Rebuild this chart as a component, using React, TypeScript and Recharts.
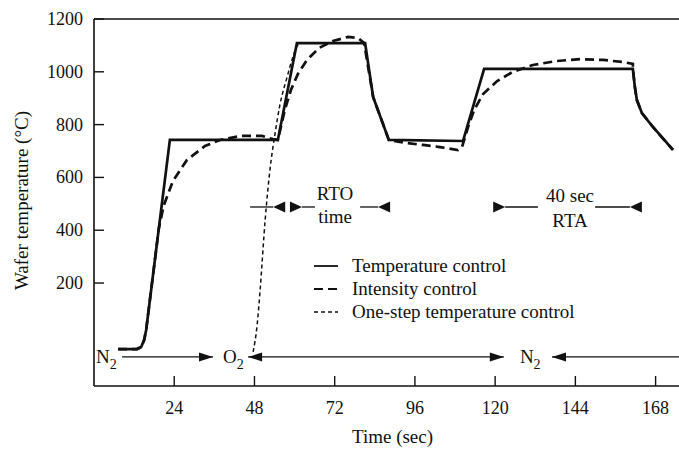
import React from 'react';
import { LineChart, Line, XAxis, YAxis, ReferenceLine, ReferenceDot, Legend } from 'recharts';

const SERIF = '"Liberation Serif", "Times New Roman", Times, serif';
const INK = '#111111';

// Axis ticks
const timeTicks = [24, 48, 72, 96, 120, 144, 168];
const tempTicks = [200, 400, 600, 800, 1000, 1200];

// Wafer temperature (°C) against time (s) for the three control schemes
const temperatureControl = [
  { t: 7.2, v: -50 }, { t: 12.9, v: -50 }, { t: 14.1, v: -42 }, { t: 15.0, v: -16 }, { t: 15.6, v: 22 },
  { t: 22.7, v: 742 }, { t: 55.0, v: 742 }, { t: 60.7, v: 1109 }, { t: 81.1, v: 1109 }, { t: 83.5, v: 905 },
  { t: 84.7, v: 863 }, { t: 88.2, v: 742 }, { t: 110.4, v: 738 }, { t: 116.7, v: 1011 }, { t: 161.2, v: 1011 },
  { t: 161.8, v: 942 }, { t: 162.4, v: 893 }, { t: 163.9, v: 844 }, { t: 167.2, v: 791 }, { t: 173.2, v: 704 },
];

const intensityControl = [
  { t: 7.2, v: -50 }, { t: 12.9, v: -50 }, { t: 14.1, v: -42 }, { t: 15.0, v: -16 }, { t: 15.6, v: 22 },
  { t: 19.4, v: 408 }, { t: 20.9, v: 495 }, { t: 23.6, v: 586 }, { t: 27.8, v: 666 }, { t: 33.2, v: 719 },
  { t: 37.7, v: 742 }, { t: 43.7, v: 757 }, { t: 50.3, v: 757 }, { t: 53.5, v: 745 }, { t: 55.0, v: 742 },
  { t: 57.1, v: 856 }, { t: 58.9, v: 931 }, { t: 61.0, v: 992 }, { t: 63.7, v: 1045 }, { t: 67.3, v: 1090 },
  { t: 71.5, v: 1117 }, { t: 76.0, v: 1132 }, { t: 79.0, v: 1128 }, { t: 80.8, v: 1109 }, { t: 83.5, v: 905 },
  { t: 84.7, v: 863 }, { t: 88.2, v: 742 }, { t: 93.6, v: 730 }, { t: 98.4, v: 723 }, { t: 103.5, v: 715 },
  { t: 108.9, v: 704 }, { t: 110.1, v: 715 }, { t: 111.9, v: 791 }, { t: 113.7, v: 855 }, { t: 116.4, v: 916 },
  { t: 120.6, v: 965 }, { t: 125.3, v: 1000 }, { t: 131.3, v: 1026 }, { t: 138.5, v: 1041 }, { t: 145.4, v: 1048 },
  { t: 152.3, v: 1045 }, { t: 158.2, v: 1037 }, { t: 161.2, v: 1030 }, { t: 161.2, v: 1011 }, { t: 161.8, v: 942 },
  { t: 162.4, v: 893 }, { t: 163.9, v: 844 }, { t: 167.2, v: 791 }, { t: 173.2, v: 704 },
];

const oneStepControl = [
  { t: 47.6, v: -61 }, { t: 48.8, v: 41 }, { t: 49.7, v: 174 }, { t: 51.2, v: 439 }, { t: 52.7, v: 636 },
  { t: 54.1, v: 761 }, { t: 55.6, v: 874 }, { t: 57.7, v: 977 }, { t: 59.5, v: 1056 }, { t: 61.0, v: 1102 },
  { t: 62.2, v: 1109 },
];

// Gas ambient along the bottom of the plot
const GAS_ARROW_LEVEL = -80;
const GAS_TEXT_LEVEL = -103;
const gasNames = [
  { t: 0.6, el: 'N' },
  { t: 38.6, el: 'O' },
  { t: 127.4, el: 'N' },
];
const gasArrows = [
  { from: 8.4, to: 35.6, left: false, right: true },
  { from: 46.1, to: 122.6, left: true, right: true },
  { from: 137.0, to: 175, left: true, right: false },
];

// RTO / RTA period markers
const PERIOD_LEVEL = 488;
const periodSegments = [
  [46.7, 53.6], [62.2, 66.1], [79.6, 85.0], [123.0, 132.8], [149.9, 160.3],
];
const periodHeads = [
  { t: 53.6, dir: 'left' }, { t: 62.2, dir: 'right' }, { t: 85.0, dir: 'left' },
  { t: 123.0, dir: 'right' }, { t: 160.3, dir: 'left' },
];
const periodLabels = [
  { t: 72.1, v: 514, text: 'RTO' },
  { t: 72.1, v: 427, text: 'time' },
  { t: 142.4, v: 507, text: '40 sec' },
  { t: 142.4, v: 412, text: 'RTA' },
];

const SERIES_STYLE: Record<string, { dash?: string; width: number }> = {
  'Temperature control': { width: 2.7 },
  'Intensity control': { dash: '9 5', width: 2.7 },
  'One-step temperature control': { dash: '4 3', width: 1.5 },
};

const TimeTick = (props: any) => {
  const { x, y, payload } = props;
  return (
    <g>
      <line x1={x} y1={y} x2={x} y2={y - 10} stroke={INK} strokeWidth={1.4} />
      <text x={x} y={y + 28} textAnchor="middle" fontFamily={SERIF} fontSize={18} fill={INK}>
        {payload.value}
      </text>
    </g>
  );
};

const TempTick = (props: any) => {
  const { x, y, payload } = props;
  return (
    <g>
      <line x1={x} y1={y} x2={x + 10} y2={y} stroke={INK} strokeWidth={1.4} />
      <text x={x - 11} y={y + 6} textAnchor="end" fontFamily={SERIF} fontSize={18} fill={INK}>
        {payload.value}
      </text>
    </g>
  );
};

const triangle = (cx: number, cy: number, dir: string, len: number, half: number) => {
  const base = dir === 'left' ? cx + len : cx - len;
  return <polygon points={`${cx},${cy} ${base},${cy - half} ${base},${cy + half}`} fill={INK} />;
};

const LegendBox = () => (
  <div style={{ fontFamily: SERIF, fontSize: 19, color: INK, lineHeight: '23px' }}>
    {Object.entries(SERIES_STYLE).map(([name, s]) => (
      <div key={name} style={{ display: 'flex', alignItems: 'center', height: 23, whiteSpace: 'nowrap' }}>
        <svg width={24} height={4} style={{ marginRight: 14 }}>
          <line x1={0} y1={2} x2={24} y2={2} stroke={INK} strokeWidth={Math.min(s.width, 1.8)} strokeDasharray={s.dash} />
        </svg>
        <span>{name}</span>
      </div>
    ))}
  </div>
);

export default function App() {
  return (
    <div style={{ position: 'absolute', left: 0, top: 0, width: 679, height: 449, background: '#fff' }}>
      <LineChart width={679} height={449} margin={{ top: 19, right: 0, bottom: 0, left: 0 }}>
        <XAxis
          type="number"
          dataKey="t"
          domain={[0, 175]}
          ticks={timeTicks}
          interval={0}
          allowDataOverflow
          height={63}
          tickSize={0}
          tickMargin={0}
          tickLine={false}
          tick={(p: any) => <TimeTick {...p} />}
          axisLine={{ stroke: INK, strokeWidth: 1.6 }}
          label={{
            content: (p: any) => {
              const vb = p.viewBox;
              return (
                <text x={vb.x + vb.width / 2 + 6} y={443} textAnchor="middle" fontFamily={SERIF} fontSize={19} fill={INK}>
                  Time (sec)
                </text>
              );
            },
          }}
        />
        <YAxis
          type="number"
          domain={[-190, 1200]}
          ticks={tempTicks}
          interval={0}
          allowDataOverflow
          width={94}
          tickSize={0}
          tickMargin={0}
          tickLine={false}
          tick={(p: any) => <TempTick {...p} />}
          axisLine={{ stroke: INK, strokeWidth: 1.6 }}
          label={{
            content: (p: any) => {
              const vb = p.viewBox;
              const cy = vb.y + vb.height / 2 - 2;
              return (
                <text transform={`translate(28, ${cy}) rotate(-90)`} textAnchor="middle" fontFamily={SERIF} fontSize={19} fill={INK}>
                  Wafer temperature (°C)
                </text>
              );
            },
          }}
        />
        <ReferenceLine y={1200} stroke={INK} strokeWidth={1.6} />

        {gasArrows.map((a, i) => (
          <ReferenceLine
            key={`ga${i}`}
            segment={[{ x: a.from, y: GAS_ARROW_LEVEL }, { x: a.to, y: GAS_ARROW_LEVEL }]}
            stroke={INK}
            strokeWidth={1.3}
            ifOverflow="visible"
          />
        ))}
        {gasArrows.flatMap((a, i) => {
          const heads = [];
          if (a.left) heads.push({ t: a.from, dir: 'left' });
          if (a.right) heads.push({ t: a.to, dir: 'right' });
          return heads.map((h, j) => (
            <ReferenceDot
              key={`gh${i}-${j}`}
              x={h.t}
              y={GAS_ARROW_LEVEL}
              r={0}
              ifOverflow="visible"
              shape={(p: any) => triangle(p.cx, p.cy, h.dir, 14, 4.5)}
            />
          ));
        })}
        {gasNames.map((g, i) => (
          <ReferenceDot
            key={`gn${i}`}
            x={g.t}
            y={GAS_TEXT_LEVEL}
            r={0}
            ifOverflow="visible"
            shape={(p: any) => (
              <text x={p.cx} y={p.cy} fontFamily={SERIF} fontSize={19} fill={INK}>
                {g.el}
                <tspan fontSize={14} dy={6}>2</tspan>
              </text>
            )}
          />
        ))}

        {periodSegments.map(([a, b], i) => (
          <ReferenceLine
            key={`ps${i}`}
            segment={[{ x: a, y: PERIOD_LEVEL }, { x: b, y: PERIOD_LEVEL }]}
            stroke={INK}
            strokeWidth={1.3}
          />
        ))}
        {periodHeads.map((h, i) => (
          <ReferenceDot
            key={`ph${i}`}
            x={h.t}
            y={PERIOD_LEVEL}
            r={0}
            shape={(p: any) => triangle(p.cx, p.cy, h.dir, 12, 5.5)}
          />
        ))}
        {periodLabels.map((l, i) => (
          <ReferenceDot
            key={`pl${i}`}
            x={l.t}
            y={l.v}
            r={0}
            shape={(p: any) => (
              <text x={p.cx} y={p.cy} textAnchor="middle" fontFamily={SERIF} fontSize={19} fill={INK}>
                {l.text}
              </text>
            )}
          />
        ))}

        <Line
          data={oneStepControl}
          dataKey="v"
          name="One-step temperature control"
          type="monotone"
          stroke={INK}
          strokeWidth={SERIES_STYLE['One-step temperature control'].width}
          strokeDasharray={SERIES_STYLE['One-step temperature control'].dash}
          dot={false}
          activeDot={false}
          isAnimationActive={false}
        />
        <Line
          data={intensityControl}
          dataKey="v"
          name="Intensity control"
          type="linear"
          stroke={INK}
          strokeWidth={SERIES_STYLE['Intensity control'].width}
          strokeDasharray={SERIES_STYLE['Intensity control'].dash}
          dot={false}
          activeDot={false}
          isAnimationActive={false}
        />
        <Line
          data={temperatureControl}
          dataKey="v"
          name="Temperature control"
          type="linear"
          stroke={INK}
          strokeWidth={SERIES_STYLE['Temperature control'].width}
          dot={false}
          activeDot={false}
          isAnimationActive={false}
        />
        <Legend
          layout="vertical"
          align="center"
          verticalAlign="middle"
          content={() => <LegendBox />}
          wrapperStyle={{ left: 314, top: 254, width: 300 }}
        />
      </LineChart>
    </div>
  );
}
